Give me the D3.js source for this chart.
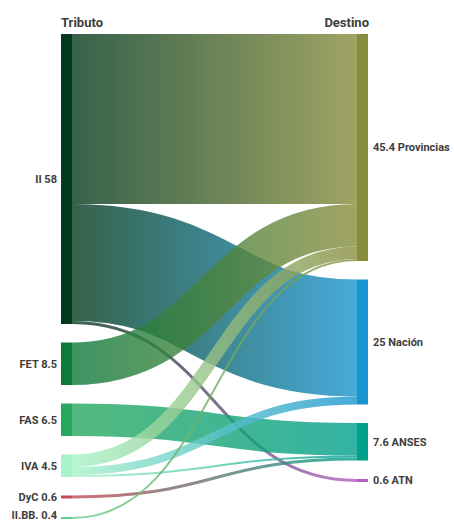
<!DOCTYPE html>
<html>
<head>
<meta charset="utf-8">
<script src="https://cdn.jsdelivr.net/npm/d3@7"></script>
<style>
  html, body { margin: 0; padding: 0; background: #fff; }
  svg { display: block; }
  text { font-family: Roboto, "Open Sans", sans-serif; font-weight: 700; fill: #3d3d3d; }
</style>
</head>
<body>
<svg id="chart" width="454" height="523"></svg>
<script>
// ---- data ----
const sourceNames = ["II", "FET", "FAS", "IVA", "DyC", "II.BB."];
const sourceTotals = [58, 8.5, 6.5, 4.5, 0.6, 0.4];
const targetNames = ["Provincias", "Nación", "ANSES", "ATN"];
const targetTotals = [45.4, 25, 7.6, 0.6];
const linkSources = ["II", "II", "II", "FET", "FAS", "IVA", "IVA", "IVA", "DyC", "II.BB."];
const linkTargets = ["Provincias", "Nación", "ATN", "Provincias", "ANSES", "Provincias", "Nación", "ANSES", "ANSES", "Provincias"];
const linkValues = [34, 23.4, 0.6, 8.5, 6.5, 2.5, 1.6, 0.4, 0.6, 0.4];
const headers = ["Tributo", "Destino"];

// ---- styles ----
const nodeColors = {
  "II": "#033a1d", "FET": "#0c7a3b", "FAS": "#28a85d", "IVA": "#a6f3c9",
  "DyC": "#c44b57", "II.BB.": "#5fd08a",
  "Provincias": "#888d3d", "Nación": "#1895cf", "ANSES": "#00a08d", "ATN": "#b35fc0"
};

const chartLeft = 61, chartRight = 368, chartTop = 34, chartBottom = 519;
const nodeW = 11, pad = 18.5;

const svg = d3.select("#chart");

const outSum = sourceNames.map(n => d3.sum(linkValues.filter((v, i) => linkSources[i] === n)));
const inSum = targetNames.map(n => d3.sum(linkValues.filter((v, i) => linkTargets[i] === n)));

const kyL = (chartBottom - chartTop - (sourceNames.length - 1) * pad) / d3.sum(outSum);
const kyR = (chartBottom - chartTop - (targetNames.length - 1) * pad) / d3.sum(inSum);
const ky = Math.min(kyL, kyR);
const h = d3.scaleLinear().domain([0, 1]).range([0, ky]);

const x = d3.scalePoint().domain(["src", "tgt"]).range([chartLeft, chartRight - nodeW]);

function layoutColumn(names, sums, col) {
  let y = chartTop;
  return names.map((n, i) => {
    const node = { name: n, col, x0: x(col), x1: x(col) + nodeW, y0: y, y1: y + h(sums[i]), value: sums[i], idx: i };
    y = node.y1 + pad;
    return node;
  });
}
const srcNodes = layoutColumn(sourceNames, outSum, "src");
const tgtNodes = layoutColumn(targetNames, inSum, "tgt");
const byName = {};
srcNodes.forEach(n => byName[n.name] = n);
tgtNodes.forEach(n => byName[n.name] = n);

const links = linkValues.map((v, i) => ({ source: byName[linkSources[i]], target: byName[linkTargets[i]], value: v, i }));

srcNodes.forEach(n => {
  let y = n.y0;
  links.filter(l => l.source === n).sort((a, b) => a.target.y0 - b.target.y0).forEach(l => {
    l.w = h(l.value); l.y0 = y + l.w / 2; y += l.w;
  });
});
tgtNodes.forEach(n => {
  let y = n.y0;
  links.filter(l => l.target === n).sort((a, b) => a.source.y0 - b.source.y0).forEach(l => {
    l.y1 = y + h(l.value) / 2; y += h(l.value);
  });
});

const defs = svg.append("defs");
links.forEach(l => {
  const g = defs.append("linearGradient")
    .attr("id", "lg" + l.i)
    .attr("gradientUnits", "userSpaceOnUse")
    .attr("x1", l.source.x1).attr("x2", l.target.x0)
    .attr("y1", 0).attr("y2", 0);
  g.append("stop").attr("offset", "0%").attr("stop-color", nodeColors[l.source.name]);
  g.append("stop").attr("offset", "100%").attr("stop-color", nodeColors[l.target.name]);
});

const linkGen = d3.linkHorizontal()
  .source(d => [d.source.x1, d.y0])
  .target(d => [d.target.x0, d.y1]);

svg.append("g")
  .attr("fill", "none")
  .selectAll("path")
  .data(links)
  .join("path")
  .attr("d", linkGen)
  .attr("stroke", d => `url(#lg${d.i})`)
  .attr("stroke-width", d => Math.max(1.5, d.w))
  .attr("stroke-opacity", 0.8);

const allNodes = srcNodes.concat(tgtNodes);
svg.append("g")
  .selectAll("rect")
  .data(allNodes)
  .join("rect")
  .attr("x", d => d.x0)
  .attr("y", d => d.y0)
  .attr("width", nodeW)
  .attr("height", d => Math.max(2, d.y1 - d.y0))
  .attr("fill", d => nodeColors[d.name]);

svg.append("g")
  .selectAll("text")
  .data(srcNodes)
  .join("text")
  .attr("x", d => d.x0 - 4)
  .attr("y", d => Math.min((d.y0 + d.y1) / 2, 515))
  .attr("dy", "0.35em")
  .attr("text-anchor", "end")
  .attr("font-size", 11)
  .text(d => `${d.name} ${sourceTotals[d.idx]}`);

svg.append("g")
  .selectAll("text")
  .data(tgtNodes)
  .join("text")
  .attr("x", d => d.x1 + 5)
  .attr("y", d => (d.y0 + d.y1) / 2)
  .attr("dy", "0.35em")
  .attr("text-anchor", "start")
  .attr("font-size", 11)
  .text(d => `${targetTotals[d.idx]} ${d.name}`);

svg.append("text").attr("x", chartLeft).attr("y", 27).attr("font-size", 13).text(headers[0]);
svg.append("text").attr("x", chartRight + 1).attr("y", 27).attr("font-size", 13).attr("text-anchor", "end").text(headers[1]);
</script>
</body>
</html>
